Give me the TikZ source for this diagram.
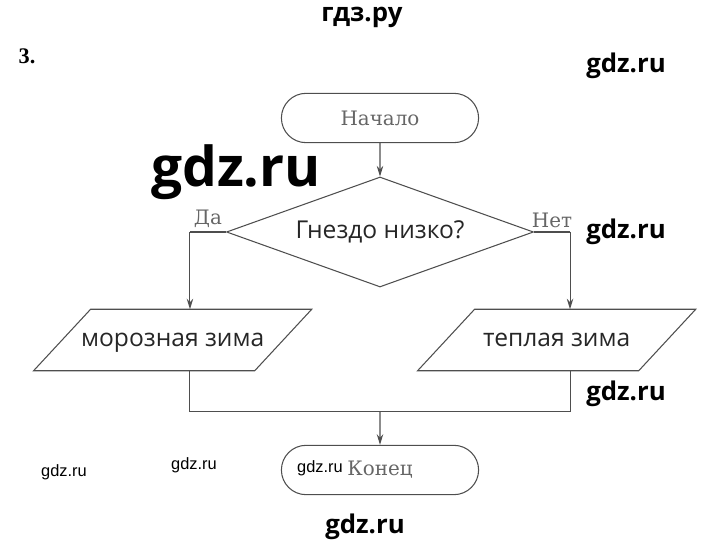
\documentclass[tikz,border=0pt]{standalone}
\usepackage{fontspec}
\setmainfont{DejaVu Serif}
\newfontfamily\opensans{Open Sans}
\newfontfamily\narrowsans{Liberation Sans}
\newfontfamily\timesfont{Liberation Serif}
\usepackage{tikz}
\usetikzlibrary{positioning, shapes, shapes.geometric, shapes.misc, arrows.meta}
\definecolor{linegray}{HTML}{4E4E4E}
\definecolor{textgray}{HTML}{666666}
\tikzstyle{line} = [draw=linegray, line width=0.9pt]
\tikzstyle{term} = [line, rounded rectangle,
    minimum width=6.15cm, minimum height=1.48cm,
    font=\fontsize{17}{20}\selectfont, text=textgray]
\tikzstyle{decision} = [line, diamond, aspect=2.8,
    minimum width=9.21cm, minimum height=3.3cm, inner sep=0pt,
    font=\opensans\fontsize{21}{25}\selectfont, text=black!85]
\tikzstyle{data} = [rectangle, minimum width=6.62cm, minimum height=1.83cm,
    text depth=0pt, font=\opensans\fontsize{21}{25}\selectfont, text=black!85]
\tikzstyle{tag} = [font=\fontsize{17}{20}\selectfont, text=textgray]
\tikzstyle{wmbold} = [font=\opensans\bfseries\fontsize{22}{26}\selectfont]
\tikzstyle{wmthin} = [font=\narrowsans\fontsize{14}{16}\selectfont]

\begin{document}
\begin{tikzpicture}[auto, node distance=2cm, >={Stealth[length=9pt, width=5.5pt]}]
\useasboundingbox (-11.4,3.54) rectangle (10.2,-12.81);

        \node[term](start){Начало};

        \node[
            decision,
            below of=start,
            node distance=3.42cm
        ](dec){Гнездо низко?};

        \node[
            data,
            below of=dec,
            node distance=3.24cm,
            xshift=-6.22cm
        ](frost){морозная зима};

        \node[
            data,
            below of=dec,
            node distance=3.24cm,
            xshift=5.3cm
        ](warm){теплая зима};

        \node[
            term,
            below of=start,
            node distance=10.56cm
        ](stop){Конец};

        % slanted outline of the two data boxes
        \foreach \n in {frost, warm}
            \draw[line] ([xshift=-0.855cm]\n.south west) -- ([xshift=0.855cm]\n.north west)
                -- ([xshift=0.855cm]\n.north east) -- ([xshift=-0.855cm]\n.south east) -- cycle;

        \coordinate[left=1.08cm of dec.west](yesturn);
        \coordinate[right=1.08cm of dec.east](noturn);
        \coordinate[above=0.99cm of stop.north](merge);

        \draw[line, ->] (start) -- (dec);
        \draw[line] (dec.west) -- node[tag, above](yes){Да} (yesturn);
        \draw[line, ->] (yesturn) -- (yesturn |- frost.north);
        \draw[line] (dec.east) -- node[tag, above](no){Нет} (noturn);
        \draw[line, ->] (noturn) -- (noturn |- warm.north);
        \draw[line] (yesturn |- frost.south) |- (merge) -| (noturn |- warm.south);
        \draw[line, ->] (merge) -- (stop);

        % number and watermarks
        \node[font=\timesfont\bfseries\fontsize{19}{22}\selectfont] (num) at (-10.59,1.86) {3.};
        \node[wmbold] (wmtop) at (-0.54,3.03) {гдз.ру};
        \node[wmbold] (wmright) at (7.38,1.56) {gdz.ru};
        \node[font=\opensans\bfseries\fontsize{47}{52}\selectfont] (wmbig) at (-4.32,-1.62) {gdz.ru};
        \node[wmbold] (wmmid) at (7.38,-3.42) {gdz.ru};
        \node[wmbold] (wmlow) at (7.38,-8.28) {gdz.ru};
        \node[wmbold] (wmbottom) at (-0.45,-12.27) {gdz.ru};
        \node[wmthin] (wma) at (-9.48,-10.62) {gdz.ru};
        \node[wmthin] (wmb) at (-5.58,-10.41) {gdz.ru};
        \node[wmthin] (wmc) at (-1.8,-10.5) {gdz.ru};
    \end{tikzpicture}
\end{document}
